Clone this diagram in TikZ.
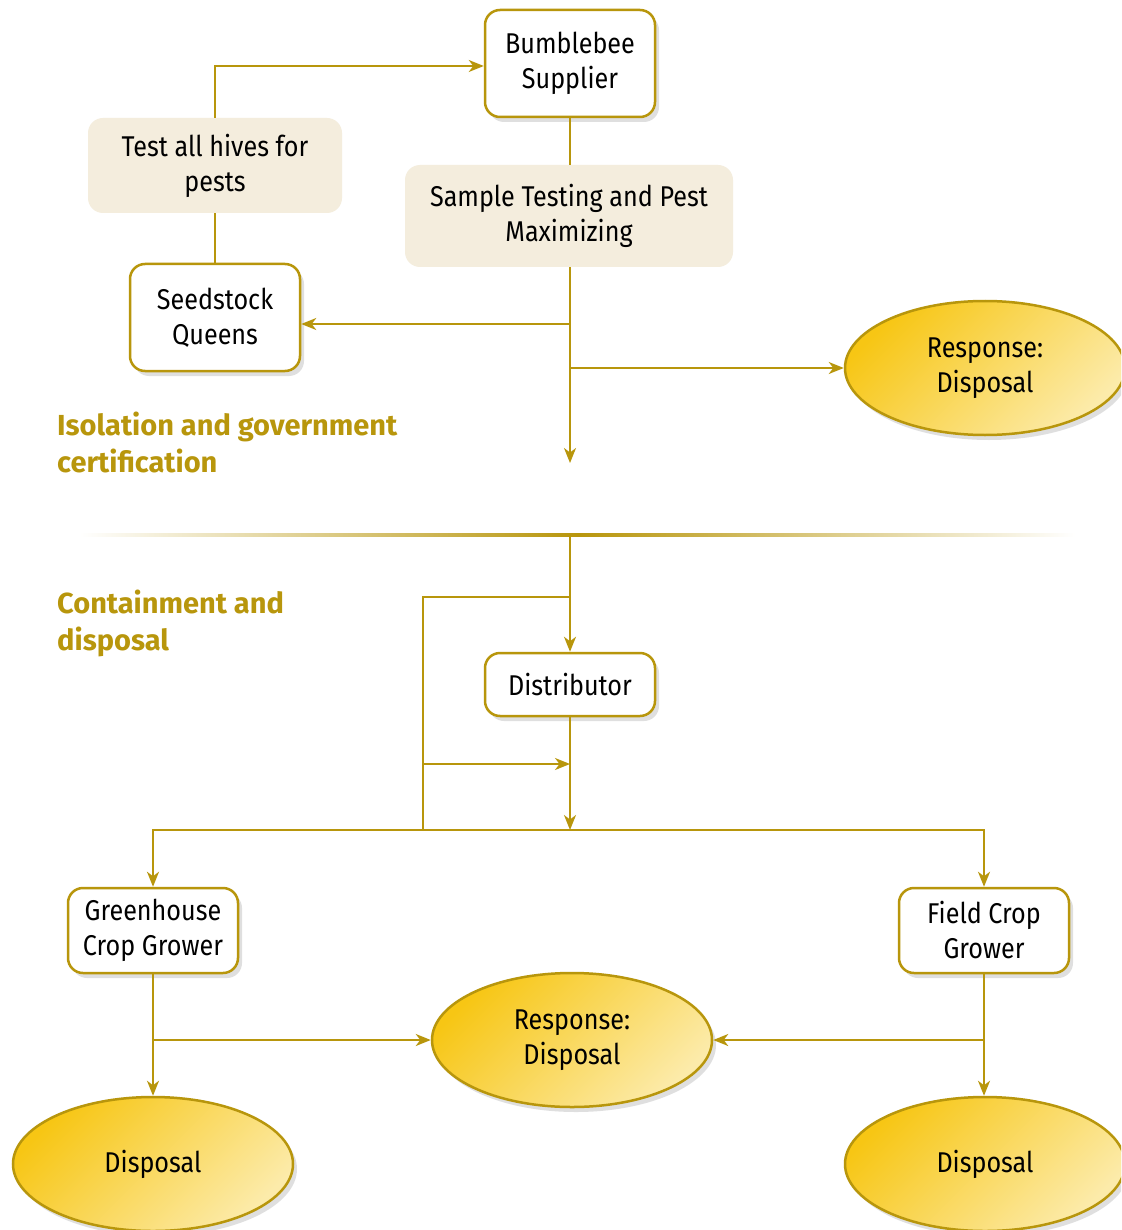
\documentclass[tikz,border=0pt]{standalone}
\usepackage{fontspec}
\setmainfont{Fira Sans}[FakeStretch=0.88]
\newfontfamily\headfont{Fira Sans}
\usetikzlibrary{arrows.meta,shapes.geometric,shadows}
\definecolor{gold}{RGB}{184,150,12}
\definecolor{beige}{RGB}{244,237,221}
\definecolor{ylw}{RGB}{247,198,20}
\definecolor{pale}{RGB}{252,235,170}
\begin{document}
\begin{tikzpicture}[x=1pt,y=-1pt,
  txt/.style={font=\fontsize{28.6}{35}\selectfont, align=center, inner sep=0pt},
  box/.style={txt, draw=gold, line width=2.5pt, fill=white, rounded corners=15pt,
    minimum width=170pt, drop shadow={shadow xshift=4pt, shadow yshift=-5pt, opacity=0.25}},
  note/.style={txt, fill=beige, rounded corners=15pt},
  oval/.style={txt, ellipse, draw=gold, line width=2.5pt, top color=ylw, bottom color=pale,
    shading angle=45, minimum width=280pt, minimum height=134pt,
    drop shadow={shadow xshift=4pt, shadow yshift=-5pt, opacity=0.25}},
  conn/.style={draw=gold, line width=2pt},
  arr/.style={conn, -{Stealth[length=15pt, width=12pt, inset=4.5pt]}},
  head/.style={text=gold, font=\headfont\bfseries\fontsize{29}{37}\selectfont, align=left, inner sep=0pt, anchor=base west}
]
\clip (0,0) rectangle (1121,1230);
\fill[white] (0,0) rectangle (1121,1230);

% top section
\node[box, minimum height=107pt] (bb) at (570,63.5) {Bumblebee\\Supplier};
\node[note, minimum width=254pt, minimum height=95pt] (test) at (215,165.5) {Test all hives for\\pests};
\node[note, minimum width=328pt, minimum height=102pt] (sample) at (569,216) {Sample Testing and Pest\\Maximizing};
\node[box, minimum height=107pt] (seed) at (215,317.5) {Seedstock\\Queens};
\node[oval] (resp1) at (985,368) {Response:\\Disposal};
\coordinate (end1) at (570,463);
\coordinate (j1) at (570,324);
\coordinate (j2) at (570,368);

\node[head] (h1) at (57,472) {Isolation and government\\certification};
\node[head] (h2) at (57,650) {Containment and\\disposal};

\draw[conn] (bb.south) -- (bb.south |- sample.north);
\draw[conn] (seed.north) -- (test.south);
\draw[arr] (test.north) |- ([yshift=-2.5pt]bb.west);
\draw[arr] (bb.south |- sample.south) -- (end1);
\draw[arr] (j1) -- (seed.east |- j1);
\draw[arr] (j2) -- (resp1.west);

% separator
\shade[left color=white, right color=white, middle color=gold] (80,533.5) rectangle (1075,536.5);
\coordinate (sep) at (570,535);

% lower section
\node[box, minimum height=63pt] (dist) at (570,684.5) {Distributor};
\node[box, minimum height=85pt] (gh) at (153,930.5) {Greenhouse\\Crop Grower};
\node[box, minimum height=85pt] (fc) at (984,930.5) {Field Crop\\Grower};
\node[oval] (resp2) at (572,1040) {Response:\\Disposal};
\node[oval] (disp1) at (153,1164) {Disposal};
\node[oval] (disp2) at (985,1164) {Disposal};

\coordinate (j3) at (570,597);
\coordinate (j4) at (423,830);
\coordinate (j5) at (423,764);
\coordinate (j6) at (570,764);
\coordinate (bar) at (570,830);

\draw[arr] (sep) -- (dist.north);
\draw[conn] (j3) -| (j4);
\draw[arr] (j5) -- (j6);
\draw[arr] (dist.south) -- (bar);
\draw[arr] (bar) -| (gh.north);
\draw[arr] (bar) -| (fc.north);
\draw[arr] (gh.south) -- (disp1.north);
\draw[arr] (fc.south) -- (fc.south |- disp2.north);
\draw[arr] (gh.south |- resp2.west) -- (resp2.west);
\draw[arr] (fc.south |- resp2.east) -- (resp2.east);
\end{tikzpicture}
\end{document}
